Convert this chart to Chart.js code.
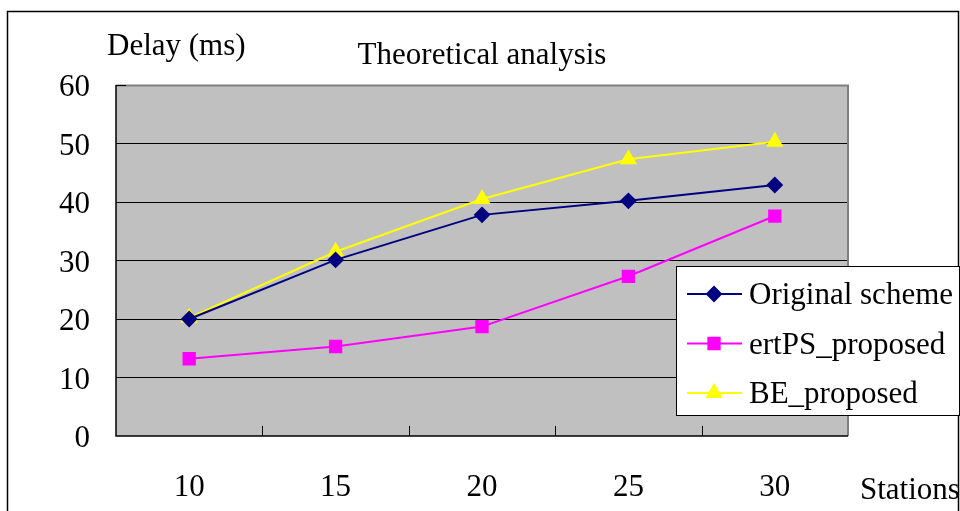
<!DOCTYPE html>
<html><head><meta charset="utf-8">
<script src="https://cdn.jsdelivr.net/npm/chart.js@4"></script>
<style>html,body{margin:0;padding:0;background:#fff;}#wrap{width:960px;height:511px;position:relative;}</style>
</head><body><div id="wrap"><canvas id="c" width="960" height="511"></canvas></div>
<script>
const stations = ['10', '15', '20', '25', '30'];
const originalScheme = [20.0, 30.1, 37.8, 40.2, 42.9];
const ertPSProposed = [13.2, 15.3, 18.7, 27.3, 37.6];
const beProposed = [20.2, 31.5, 40.5, 47.3, 50.3];
const seriesNames = ['Original scheme', 'ertPS_proposed', 'BE_proposed'];
const titleText = 'Theoretical analysis';
const yAxisTitle = 'Delay (ms)';
const xAxisTitle = 'Stations';

const FONT = '"Liberation Serif", "Times New Roman", serif';
const FS = 31;

const decor = {
  id: 'decor',
  beforeDraw(chart) {
    const {ctx, chartArea: a} = chart;
    ctx.save();
    ctx.fillStyle = '#C0C0C0';
    ctx.fillRect(a.left, a.top, a.right - a.left, a.bottom - a.top);
    ctx.restore();
  },
  afterDraw(chart) {
    const {ctx, chartArea: a} = chart;
    const xs = chart.scales.x;
    ctx.save();
    ctx.strokeStyle = '#808080';
    ctx.lineWidth = 2;
    ctx.beginPath();
    ctx.moveTo(a.left, a.top + 0.5);
    ctx.lineTo(a.right, a.top + 0.5);
    ctx.lineTo(a.right, a.bottom);
    ctx.stroke();
    ctx.strokeStyle = '#000';
    ctx.lineWidth = 1.5;
    ctx.beginPath();
    ctx.moveTo(a.left, a.top);
    ctx.lineTo(a.left, a.bottom);
    ctx.lineTo(a.right, a.bottom);
    ctx.stroke();
    ctx.lineWidth = 1;
    ctx.beginPath();
    ctx.moveTo(a.left, a.top + 0.5);
    ctx.lineTo(a.left + 10, a.top + 0.5);
    ctx.stroke();
    ctx.beginPath();
    for (let i = 0; i < stations.length - 1; i++) {
      const px = Math.round((xs.getPixelForTick(i) + xs.getPixelForTick(i + 1)) / 2) + 0.5;
      ctx.moveTo(px, a.bottom);
      ctx.lineTo(px, a.bottom - 10);
    }
    ctx.stroke();
    ctx.strokeStyle = '#000';
    ctx.lineWidth = 1.5;
    ctx.strokeRect(7.5, 11.5, 951, 540);
    ctx.fillStyle = '#000';
    ctx.font = FS + 'px ' + FONT;
    ctx.textBaseline = 'middle';
    ctx.textAlign = 'center';
    ctx.fillText(titleText, (a.left + a.right) / 2, 56);
    ctx.textAlign = 'left';
    ctx.fillText(yAxisTitle, 107, 47);
    ctx.fillText(xAxisTitle, 860, 491);
    const lx = 676, ly = 266, lw = 283, lh = 149;
    ctx.fillStyle = '#fff';
    ctx.fillRect(lx, ly, lw, lh);
    ctx.strokeStyle = '#000';
    ctx.lineWidth = 1;
    ctx.strokeRect(lx + 0.5, ly + 0.5, lw, lh);
    chart.data.datasets.forEach((ds, i) => {
      const y = 294 + i * 49.5;
      ctx.strokeStyle = ds.borderColor;
      ctx.lineWidth = 2;
      ctx.beginPath();
      ctx.moveTo(687, y);
      ctx.lineTo(742, y);
      ctx.stroke();
      ctx.fillStyle = ds.pointBackgroundColor;
      ctx.strokeStyle = ds.pointBorderColor;
      Chart.helpers.drawPoint(ctx, {pointStyle: ds.pointStyle, radius: ds.pointRadius, rotation: 0, borderWidth: 1}, 714, y);
      ctx.fillStyle = '#000';
      ctx.textAlign = 'left';
      ctx.fillText(ds.label, 749, y + 2);
    });
    ctx.restore();
  }
};

new Chart(document.getElementById('c'), {
  type: 'line',
  data: {
    labels: stations,
    datasets: [
      {label: seriesNames[0], data: originalScheme, borderColor: '#000080', backgroundColor: '#000080', pointBackgroundColor: '#000080', pointBorderColor: '#000080', pointStyle: 'rectRot', pointRadius: 7, borderWidth: 2, tension: 0},
      {label: seriesNames[1], data: ertPSProposed, borderColor: '#FF00FF', backgroundColor: '#FF00FF', pointBackgroundColor: '#FF00FF', pointBorderColor: '#FF00FF', pointStyle: 'rect', pointRadius: 8, borderWidth: 2, tension: 0},
      {label: seriesNames[2], data: beProposed, borderColor: '#FFFF00', backgroundColor: '#FFFF00', pointBackgroundColor: '#FFFF00', pointBorderColor: '#FFFF00', pointStyle: 'triangle', pointRadius: 8, borderWidth: 2, tension: 0}
    ]
  },
  options: {
    responsive: false,
    animation: false,
    layout: {padding: {top: 85, right: 112, left: 0, bottom: 0}},
    plugins: {legend: {display: false}, title: {display: false}, tooltip: {enabled: false}},
    scales: {
      x: {
        type: 'category',
        offset: true,
        grid: {display: false, drawTicks: false},
        border: {display: false},
        ticks: {font: {family: FONT, size: FS}, color: '#000', padding: 33, maxRotation: 0},
        afterFit(s) { s.height = 75; }
      },
      y: {
        min: 0, max: 60,
        ticks: {stepSize: 10, font: {family: FONT, size: FS}, color: '#000', padding: 26, labelOffset: 3},
        grid: {drawTicks: false, color: (c) => (c.tick && (c.tick.value === 0 || c.tick.value === 60)) ? 'rgba(0,0,0,0)' : '#000', lineWidth: 1},
        border: {display: false},
        afterFit(s) { s.width = 116; }
      }
    }
  },
  plugins: [decor]
});
</script>
</body></html>
